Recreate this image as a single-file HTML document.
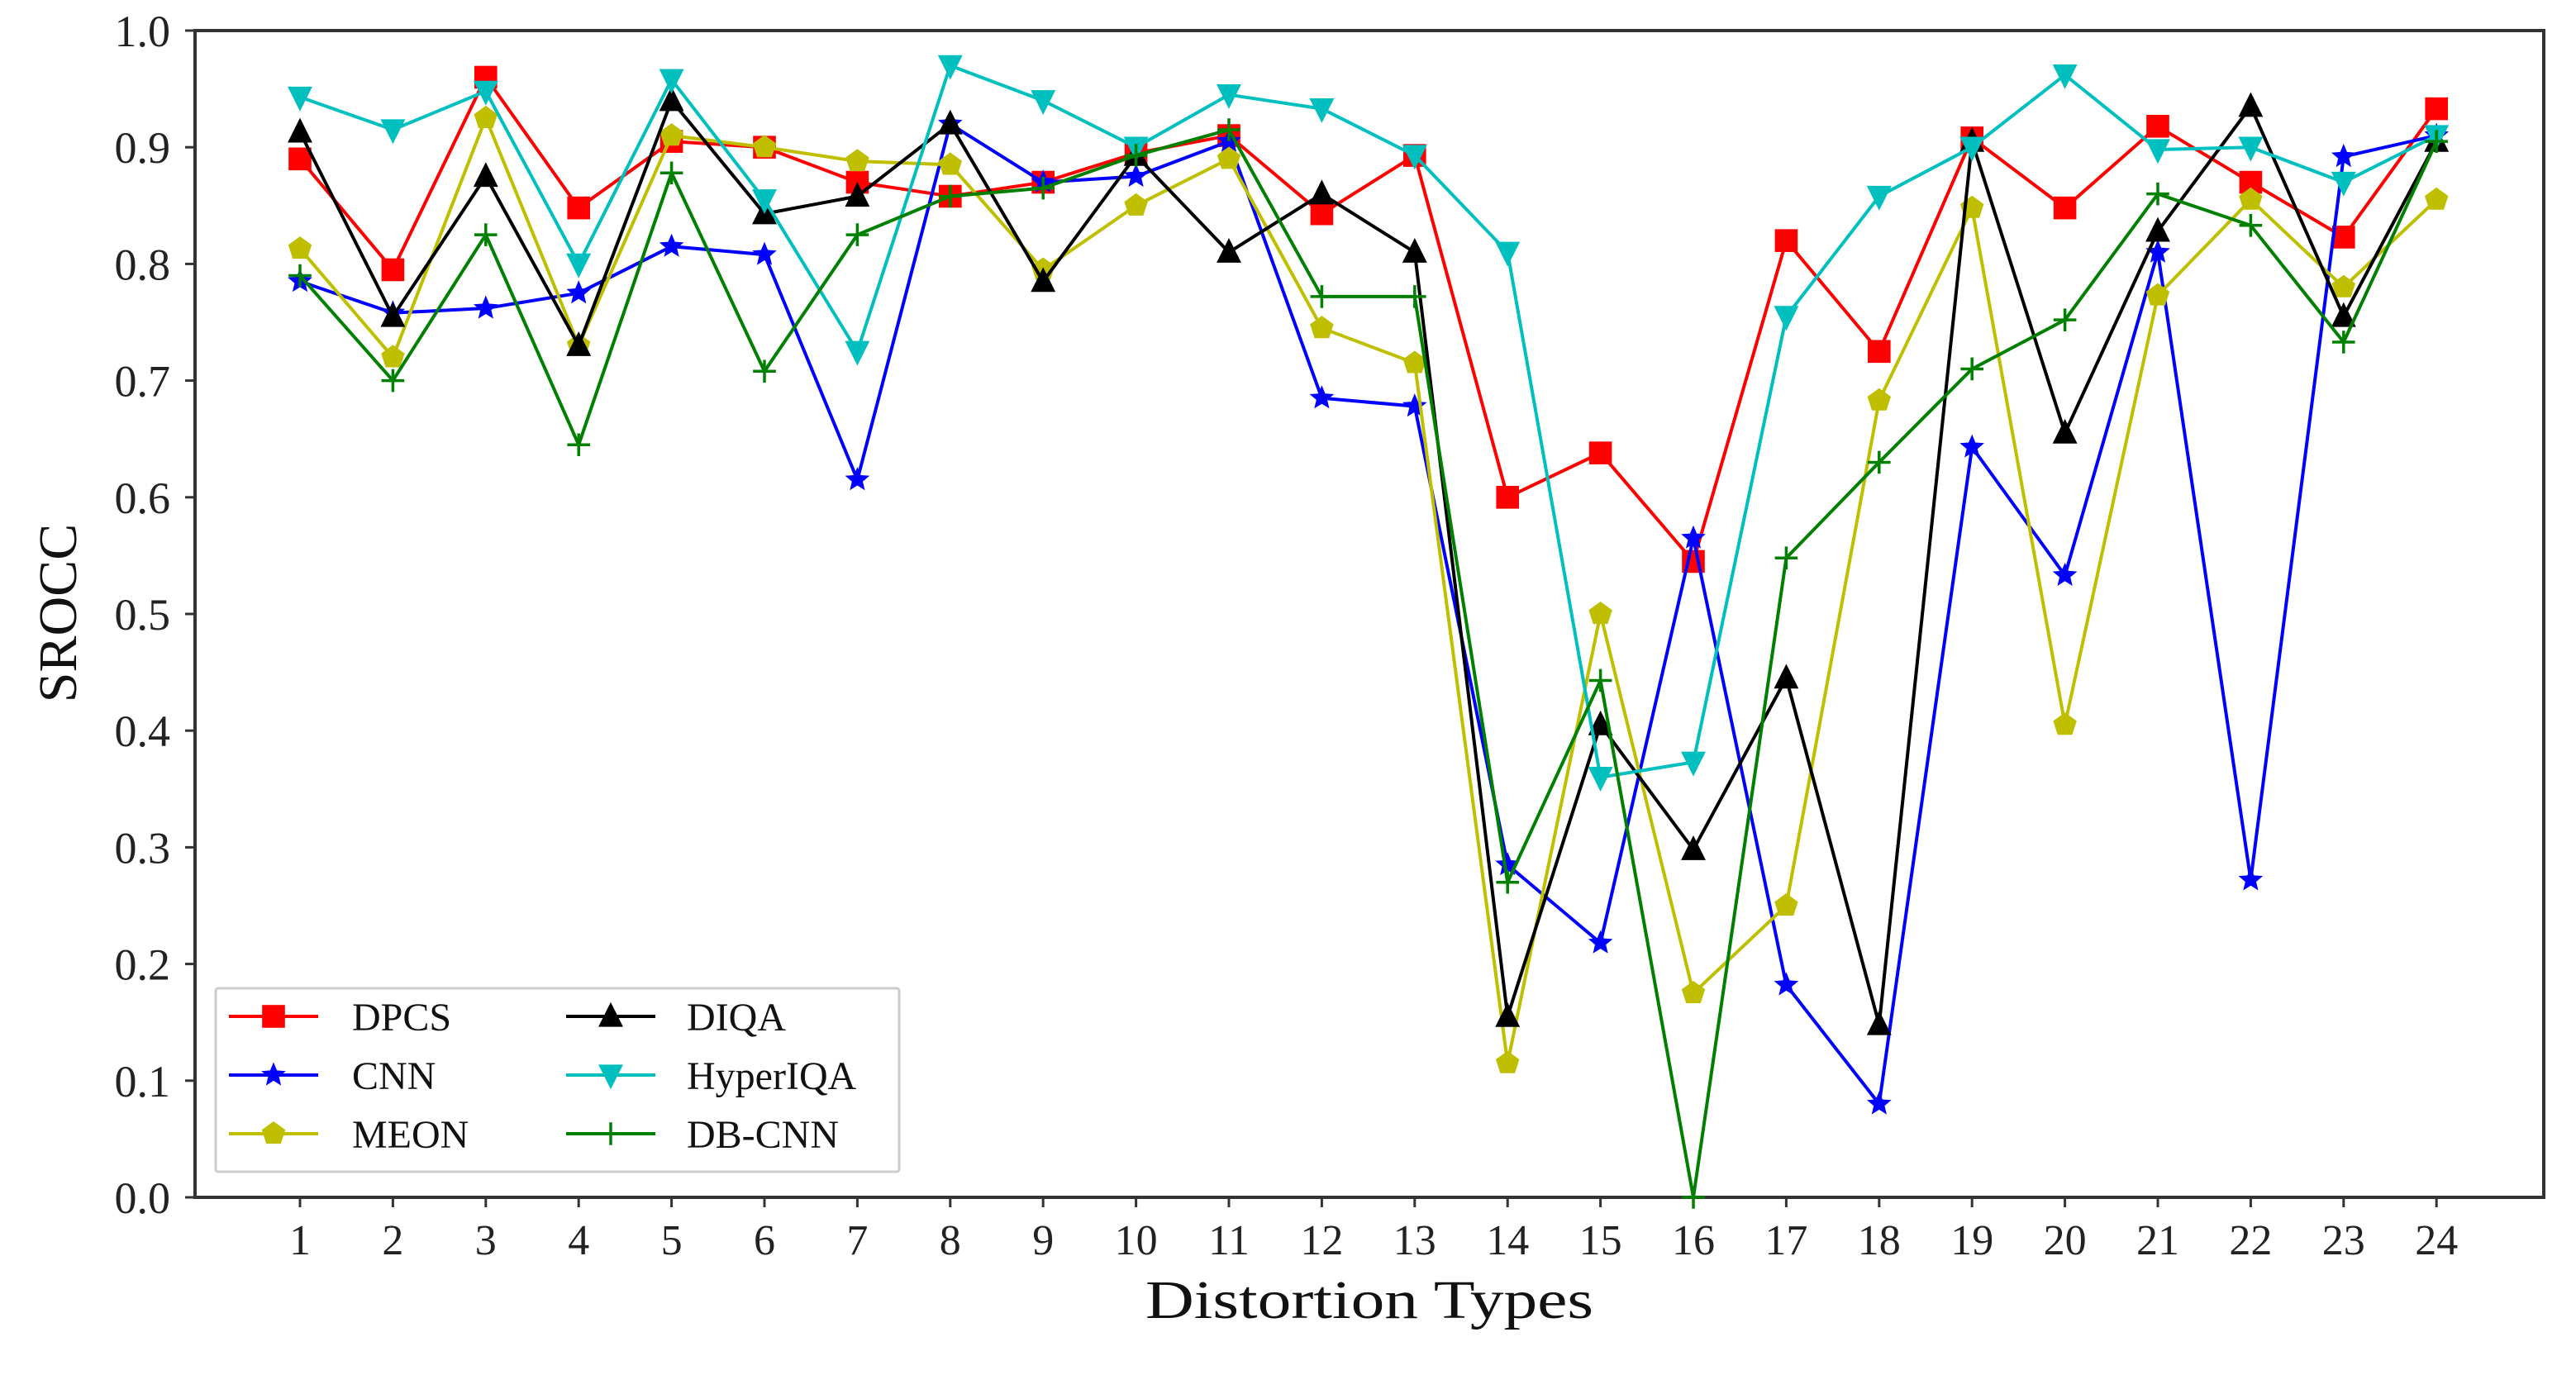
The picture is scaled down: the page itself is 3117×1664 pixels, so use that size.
<!DOCTYPE html>
<html><head><meta charset="utf-8"><style>
html,body{margin:0;padding:0;background:#fff;}
svg{display:block;font-family:"Liberation Serif","DejaVu Serif",serif;}
</style></head><body>
<svg id="chart" width="3117" height="1664" viewBox="0 0 3117 1664" xmlns="http://www.w3.org/2000/svg">
<g id="grid"></g>
<g id="series"></g>
<g id="legend"></g>
<text x="1657" y="1595" font-size="66" text-anchor="middle" textLength="542" lengthAdjust="spacingAndGlyphs" fill="#111">Distortion Types</text>
<text x="0" y="0" font-size="66" text-anchor="middle" fill="#111" transform="translate(92,742) rotate(-90)">SROCC</text>
</svg>
<script>
const categories = [1,2,3,4,5,6,7,8,9,10,11,12,13,14,15,16,17,18,19,20,21,22,23,24];
const yTicks = [0.0,0.1,0.2,0.3,0.4,0.5,0.6,0.7,0.8,0.9,1.0];
const seriesNames = ["DPCS","CNN","MEON","DIQA","HyperIQA","DB-CNN"];
const dpcs = [0.89,0.795,0.96,0.848,0.905,0.90,0.87,0.858,0.87,0.895,0.91,0.843,0.893,0.60,0.638,0.545,0.82,0.725,0.908,0.848,0.918,0.87,0.823,0.933];
const cnn = [0.785,0.758,0.762,0.775,0.815,0.808,0.615,0.92,0.87,0.875,0.905,0.685,0.678,0.285,0.218,0.565,0.182,0.08,0.643,0.533,0.81,0.272,0.892,0.91];
const meon = [0.813,0.72,0.925,0.73,0.91,0.90,0.888,0.885,0.795,0.85,0.89,0.745,0.715,0.115,0.50,0.175,0.25,0.683,0.848,0.405,0.773,0.855,0.78,0.855];
const diqa = [0.913,0.755,0.875,0.73,0.94,0.843,0.858,0.92,0.785,0.893,0.81,0.86,0.81,0.155,0.405,0.298,0.445,0.148,0.905,0.655,0.828,0.935,0.755,0.905];
const hyperiqa = [0.943,0.915,0.948,0.80,0.958,0.855,0.725,0.97,0.94,0.90,0.945,0.933,0.893,0.81,0.36,0.373,0.755,0.858,0.90,0.962,0.898,0.90,0.87,0.91];
const dbcnn = [0.79,0.70,0.825,0.645,0.878,0.708,0.825,0.858,0.865,0.893,0.915,0.772,0.772,0.27,0.443,0.0,0.548,0.63,0.71,0.752,0.86,0.833,0.733,0.905];

const NS="http://www.w3.org/2000/svg";
const L=236,R=3078,T=37,B=1449;
const X0=363,DX=112.4;
function xs(c){return X0+(c-1)*DX;}
function ys(v){return B-(v)*(B-T);}
function mk(tag,attrs,parent){const e=document.createElementNS(NS,tag);for(const k in attrs)e.setAttribute(k,attrs[k]);parent.appendChild(e);return e;}

const grid=document.getElementById('grid');
const frame=mk('rect',{x:L,y:T,width:R-L,height:B-T,fill:'none',stroke:'#333','stroke-width':4},grid);


yTicks.forEach(v=>{
  const t=mk('line',{x1:L-12,x2:L,y1:ys(v),y2:ys(v),stroke:'#333','stroke-width':3},grid);
  
  
  const lb=mk('text',{x:L-30,y:ys(v)+19,'font-size':54,'text-anchor':'end',fill:'#222'},grid);
  
  
  lb.textContent=v.toFixed(1);
});
categories.forEach(c=>{
  const t=mk('line',{x1:xs(c),x2:xs(c),y1:B,y2:B+12,stroke:'#333','stroke-width':3},grid);
  
  
  const lb=mk('text',{x:xs(c),y:1518,'font-size':52,'text-anchor':'middle',fill:'#222'},grid);
  
  
  lb.textContent=String(c);
});

const colors=["#ff0000","#0000ff","#bfbf00","#000000","#00bfbf","#008000"];
const markers=["square","star","pentagon","triangle-up","triangle-down","plus"];
const datas=[dpcs,cnn,meon,diqa,hyperiqa,dbcnn];

function marker(type,x,y,col,parent,s){
  s=s||1.15;let e;
  if(type==='square'){e=mk('rect',{x:x-12*s,y:y-12*s,width:24*s,height:24*s,fill:col},parent);}
  else if(type==='triangle-up'){e=mk('polygon',{points:`${x},${y-15*s} ${x-13*s},${y+11*s} ${x+13*s},${y+11*s}`,fill:col},parent);}
  else if(type==='triangle-down'){e=mk('polygon',{points:`${x},${y+15*s} ${x-13*s},${y-11*s} ${x+13*s},${y-11*s}`,fill:col},parent);}
  else if(type==='pentagon'){let p=[];for(let i=0;i<5;i++){const a=-Math.PI/2+i*2*Math.PI/5;p.push((x+13*s*Math.cos(a)).toFixed(1)+','+(y+13*s*Math.sin(a)).toFixed(1));}e=mk('polygon',{points:p.join(' '),fill:col},parent);}
  else if(type==='star'){let p=[];for(let i=0;i<10;i++){const r=i%2?6*s:13.5*s;const a=-Math.PI/2+i*Math.PI/5;p.push((x+r*Math.cos(a)).toFixed(1)+','+(y+r*Math.sin(a)).toFixed(1));}e=mk('polygon',{points:p.join(' '),fill:col},parent);}
  else {e=mk('path',{d:`M${x-12*s},${y}H${x+12*s}M${x},${y-12*s}V${y+12*s}`,stroke:col,'stroke-width':3.5,fill:'none'},parent);}
  return e;
}

const sg=document.getElementById('series');
datas.forEach((d,si)=>{
  const g=mk('g',{},sg);
  
  
  const pl=mk('polyline',{points:d.map((v,i)=>xs(categories[i])+','+ys(v)).join(' '),fill:'none',stroke:colors[si],'stroke-width':4,'stroke-linejoin':'miter'},g);
  
  
  d.forEach((v,i)=>{
    const m=marker(markers[si],xs(categories[i]),ys(v),colors[si],g);
    
    
  });
});

const lg=document.getElementById('legend');
const box=mk('rect',{x:261,y:1196,width:827,height:222,fill:'#fff','fill-opacity':0.85,stroke:'#ccc','stroke-width':3,rx:3},lg);


const order=[0,1,2,3,4,5];
order.forEach((si,k)=>{
  const col=Math.floor(k/3),row=k%3;
  const lx=col?685:277,ty=1230+row*71;
  const g=mk('g',{},lg);
  
  
  mk('line',{x1:lx,x2:lx+108,y1:ty,y2:ty,stroke:colors[si],'stroke-width':4},g);
  marker(markers[si],lx+54,ty,colors[si],g);
  const t=mk('text',{x:col?831:426,y:ty+17,'font-size':48,fill:'#111'},g);
  t.textContent=seriesNames[si];
});
</script>
</body></html>
